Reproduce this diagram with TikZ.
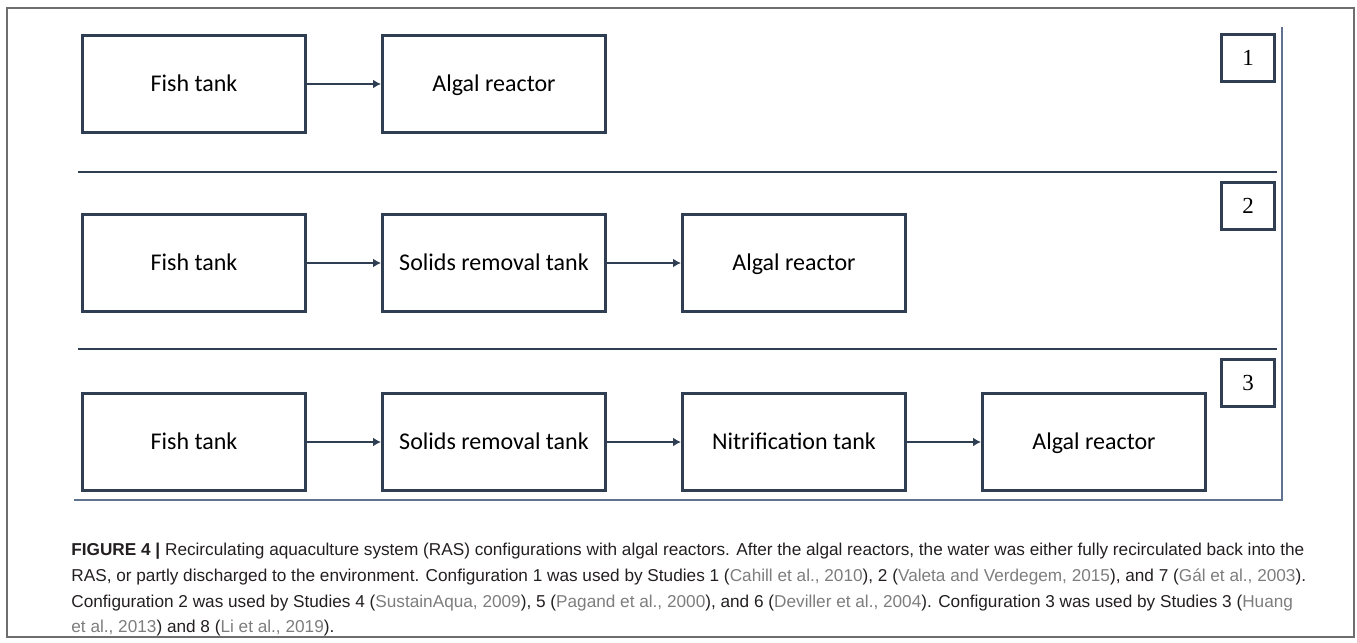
\documentclass[tikz,border=0pt]{standalone}
\usepackage{fontspec}
\setmainfont{Liberation Sans}
\newfontfamily\boxfont{Carlito}
\newfontfamily\numfont{Liberation Serif}
\usepackage{tikz}
\usetikzlibrary{positioning,arrows.meta}

\definecolor{linenavy}{RGB}{47,62,82}
\definecolor{rulegray}{RGB}{95,115,145}
\definecolor{framegray}{RGB}{110,110,110}
\definecolor{captext}{RGB}{35,31,32}
\definecolor{citegray}{RGB}{125,125,125}
\newcommand{\studyref}[1]{{\color{citegray}#1}}

\tikzset{
	stage/.style={draw=linenavy, line width=1.5pt, minimum width=111.5pt, minimum height=48.5pt, inner sep=0pt, text height=10pt, text depth=2.7pt, font=\boxfont\fontsize{12}{14}\selectfont},
	tag/.style={draw=linenavy, line width=1.3pt, minimum width=26.5pt, minimum height=23.5pt, inner sep=0pt, font=\numfont\fontsize{11.5}{13}\selectfont},
	flow/.style={draw=linenavy, line width=1pt, -{Latex[length=4pt,width=4.5pt]}},
	divider/.style={draw=linenavy, line width=1.3pt},
}

\begin{document}
\begin{tikzpicture}[x=0.5pt, y=-0.5pt, node distance=37pt]
		\useasboundingbox (0,0) rectangle (1357,643);
		\draw[framegray, line width=0.6pt] (7,8) rectangle (1354,637);

		% configuration 1
		\node[stage] (fish1) at (194,84) {Fish tank};
		\node[stage, right=of fish1] (algae1) {Algal reactor};
		\draw[flow] (fish1) -- (algae1);
		\node[tag] (num1) at (1248,58) {1};

		% configuration 2
		\node[stage] (fish2) at (194,263) {Fish tank};
		\node[stage, right=of fish2] (solids2) {Solids removal tank};
		\node[stage, right=of solids2] (algae2) {Algal reactor};
		\draw[flow] (fish2) -- (solids2);
		\draw[flow] (solids2) -- (algae2);
		\node[tag] (num2) at (1248,206) {2};

		% configuration 3
		\node[stage] (fish3) at (194,442) {Fish tank};
		\node[stage, right=of fish3] (solids3) {Solids removal tank};
		\node[stage, right=of solids3] (nitri3) {Nitrification tank};
		\node[stage, right=of nitri3] (algae3) {Algal reactor};
		\draw[flow] (fish3) -- (solids3);
		\draw[flow] (solids3) -- (nitri3);
		\draw[flow] (nitri3) -- (algae3);
		\node[tag] (num3) at (1248,383) {3};

		% dividers and frame lines
		\draw[divider] (78,172) -- (1277,172);
		\draw[divider] (78,349) -- (1277,349);
		\draw[rulegray, line width=0.6pt] (1282,27) -- (1282,500) -- (74,500);

		% caption
		\node[anchor=north west, align=left, inner sep=0pt, text=captext,
			font=\fontsize{8.6}{12.8}\selectfont] (caption) at (71,543)
		{\textbf{FIGURE 4 |} Recirculating aquaculture system (RAS) configurations with algal reactors. After the algal reactors, the water was either fully recirculated back into the\\
			RAS, or partly discharged to the environment. Configuration 1 was used by Studies 1 (\studyref{Cahill et al., 2010}), 2 (\studyref{Valeta and Verdegem, 2015}), and 7 (\studyref{Gál et al., 2003}).\\
			Configuration 2 was used by Studies 4 (\studyref{SustainAqua, 2009}), 5 (\studyref{Pagand et al., 2000}), and 6 (\studyref{Deviller et al., 2004}). Configuration 3 was used by Studies 3 (\studyref{Huang}\\
			\studyref{et al., 2013}) and 8 (\studyref{Li et al., 2019}).};
	\end{tikzpicture}
\end{document}
